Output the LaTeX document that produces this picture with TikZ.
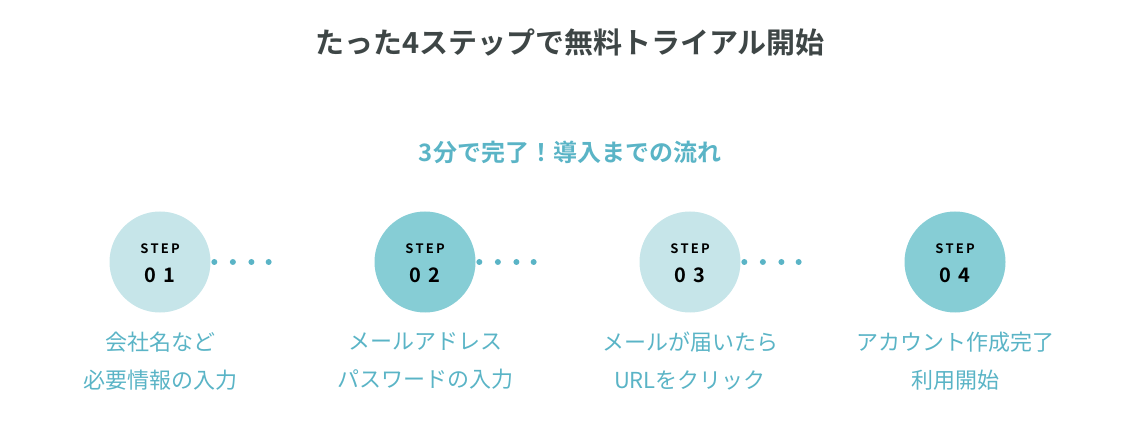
\documentclass[tikz,border=0pt]{standalone}
\usepackage{fontspec}
\setmainfont{Noto Sans CJK JP}[BoldFont={Noto Sans CJK JP Bold}]
\usetikzlibrary{positioning,calc}
\definecolor{lightStep}{HTML}{C6E5E9}
\definecolor{darkStep}{HTML}{86CDD5}
\definecolor{labelColor}{HTML}{5AB4C6}
\definecolor{titleColor}{HTML}{3E4646}
\tikzset{
  stepcircle/.style={circle, minimum size=101pt, inner sep=0pt},
  steplabel/.style={labelColor, font=\fontsize{22}{38}\selectfont, align=center},
  dotmark/.style={labelColor, fill, circle, inner sep=0pt, minimum size=6pt}
}
\begin{document}
\begin{tikzpicture}[x=1pt,y=-1pt]
				\useasboundingbox (0,0) rectangle (1140,430);
				\node [titleColor, font=\fontsize{29}{34}\selectfont\bfseries] (title) at (570,42) {たった4ステップで無料トライアル開始};
				\node [labelColor, font=\fontsize{24}{28}\selectfont\bfseries] (subtitle) at (570,152) {3分で完了！導入までの流れ};
				% steps
				\node [stepcircle, fill=lightStep] (s1) at (160,262) {};
				\node [stepcircle, fill=darkStep] (s2) at (425,262) {};
				\node [stepcircle, fill=lightStep] (s3) at (690,262) {};
				\node [stepcircle, fill=darkStep] (s4) at (955,262) {};
				\foreach \i in {1,...,4} {
				\node [font=\fontsize{13}{14}\selectfont\bfseries] at ([yshift=13pt]s\i.center) {S\,T\,E\,P};
				\node [font=\fontsize{20}{22}\selectfont\bfseries] at ([yshift=-13pt]s\i.center) {0\,\,\i};
				}
				% dots
				\foreach \a/\b in {s1/s2,s2/s3,s3/s4} {
				\foreach \t in {0.205,0.275,0.345,0.41} {
				\node [dotmark] at ($(\a)!\t!(\b)$) {};
				}
				}
				\node [steplabel] (l1) at (160,361) {会社名など\\必要情報の入力};
				\node [steplabel] (l2) at (425,361) {メールアドレス\\パスワードの入力};
				\node [steplabel] (l3) at (690,361) {メールが届いたら\\URLをクリック};
				\node [steplabel] (l4) at (955,361) {アカウント作成完了\\利用開始};
				\end{tikzpicture}
\end{document}
